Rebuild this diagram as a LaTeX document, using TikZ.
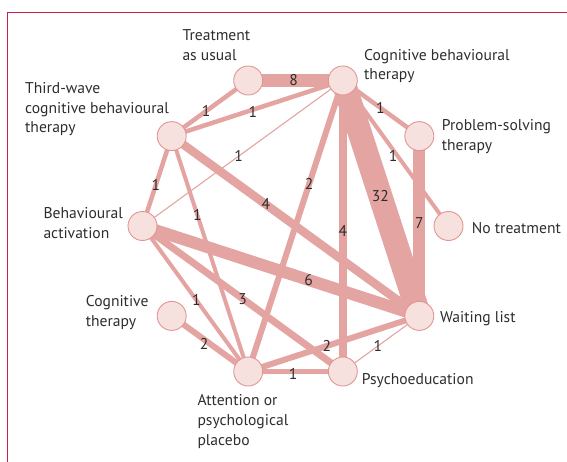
\documentclass[tikz,border=0pt]{standalone}
\usepackage{fontspec}
\setmainfont{PT Sans}
\definecolor{edgec}{RGB}{227,164,162}
\definecolor{vfill}{RGB}{246,225,223}
\definecolor{vline}{RGB}{226,150,148}
\definecolor{framec}{RGB}{204,30,70}
\definecolor{textc}{RGB}{45,45,45}
\tikzset{
  vert/.style={circle, fill=vfill, draw=vline, line width=0.9pt, minimum size=29pt, inner sep=0pt},
  edge/.style={draw=edgec, line cap=butt},
  wthin/.style={edge, line width=1.1pt},
  wa/.style={edge, line width=4.5pt},
  wb/.style={edge, line width=6pt},
  wc/.style={edge, line width=7pt},
  wd/.style={edge, line width=8.5pt},
  wf/.style={edge, line width=12pt},
  wg/.style={edge, line width=12pt},
  wh/.style={edge, line width=13pt},
  wz/.style={edge, line width=24pt},
  lab/.style={text=textc, inner sep=0pt, font=\fontsize{15.6}{17}\selectfont},
  txt/.style={anchor=base west, align=left, inner sep=0pt, text=textc, font=\fontsize{15.6}{19.8}\selectfont}
}
\begin{document}
\begin{tikzpicture}[x=1pt,y=-1pt]
\useasboundingbox (0,0) rectangle (567,462);
\draw[framec, line width=1pt] (7.3,462) -- (7.3,12.7) -- (567,12.7);

% vertex positions
\coordinate (ctau) at (248.2,80.5);
\coordinate (ccbt) at (342.8,80.5);
\coordinate (ctw) at (171.7,136.1);
\coordinate (cpst) at (419.3,136.1);
\coordinate (cba) at (142.5,226);
\coordinate (cnt) at (448.5,226);
\coordinate (cct) at (171.7,315.9);
\coordinate (cwl) at (419.3,315.9);
\coordinate (catt) at (248.2,371.5);
\coordinate (cpe) at (342.8,371.5);

% edges
\draw[wz] (ccbt) -- node[lab, pos=0.49] {32} (cwl);
\draw[wh] (ctau) -- node[lab, pos=0.48] {8} (ccbt);
\draw[wg] (cpst) -- node[lab, pos=0.485] {7} (cwl);
\draw[wf] (cba) -- node[lab, pos=0.60] {6} (cwl);
\draw[wd] (ctw) -- node[lab, pos=0.38] {4} (cwl);
\draw[wd] (ccbt) -- node[lab, pos=0.518] {4} (cpe);
\draw[wc] (cba) -- node[lab, pos=0.5] {3} (cpe);
\draw[wb] (ccbt) -- node[lab, pos=0.356] {2} (catt);
\draw[wb] (cct) -- node[lab, pos=0.451, xshift=-2pt, yshift=-3pt] {2} (catt);
\draw[wb] (catt) -- node[lab, pos=0.46] {2} (cwl);
\draw[wa] (ctau) -- node[lab, pos=0.55] {1} (ctw);
\draw[wa] (ccbt) -- node[lab, pos=0.525, yshift=-2pt] {1} (ctw);
\draw[wa] (ccbt) -- node[lab, pos=0.49] {1} (cpst);
\draw[edge, line width=4pt] (ccbt) -- node[lab, pos=0.504, xshift=-3pt, yshift=-2pt] {1} (cnt);
\draw[wa] (ctw) -- node[lab, pos=0.544] {1} (cba);
\draw[edge, line width=4pt] (ctw) -- node[lab, pos=0.334] {1} (catt);
\draw[edge, line width=4pt] (cba) -- node[lab, pos=0.51] {1} (catt);
\draw[wa] (catt) -- node[lab, pos=0.475, yshift=-2pt] {1} (cpe);
\draw[wthin] (ccbt) -- node[lab, pos=0.52] {1} (cba);
\draw[wthin] (cpe) -- node[lab, pos=0.46] {1} (cwl);

% vertices
\node[vert] (tau) at (ctau) {};
\node[vert] (cbt) at (ccbt) {};
\node[vert] (tw) at (ctw) {};
\node[vert] (pst) at (cpst) {};
\node[vert] (ba) at (cba) {};
\node[vert] (nt) at (cnt) {};
\node[vert] (ct) at (cct) {};
\node[vert] (wl) at (cwl) {};
\node[vert] (att) at (catt) {};
\node[vert] (pe) at (cpe) {};

% labels (anchor = baseline of last line)
\node[txt] (ltau) at (182.3,60.7) {Treatment\\as usual};
\node[txt] (ltw) at (25,133) {Third-wave\\cognitive behavioural\\therapy};
\node[txt] (lcbt) at (364,80) {Cognitive behavioural\\therapy};
\node[txt] (lpst) at (441.7,150.7) {Problem-solving\\therapy};
\node[txt] (lba) at (43.3,238.3) {Behavioural\\activation};
\node[txt] (lnt) at (471.7,233.3) {No treatment};
\node[txt] (lct) at (85.7,326.7) {Cognitive\\therapy};
\node[txt] (lwl) at (440,322.7) {Waiting list};
\node[txt] (lpe) at (361.7,384.3) {Psychoeducation};
\node[txt] (latt) at (197.3,445) {Attention or\\psychological\\placebo};
\end{tikzpicture}
\end{document}
